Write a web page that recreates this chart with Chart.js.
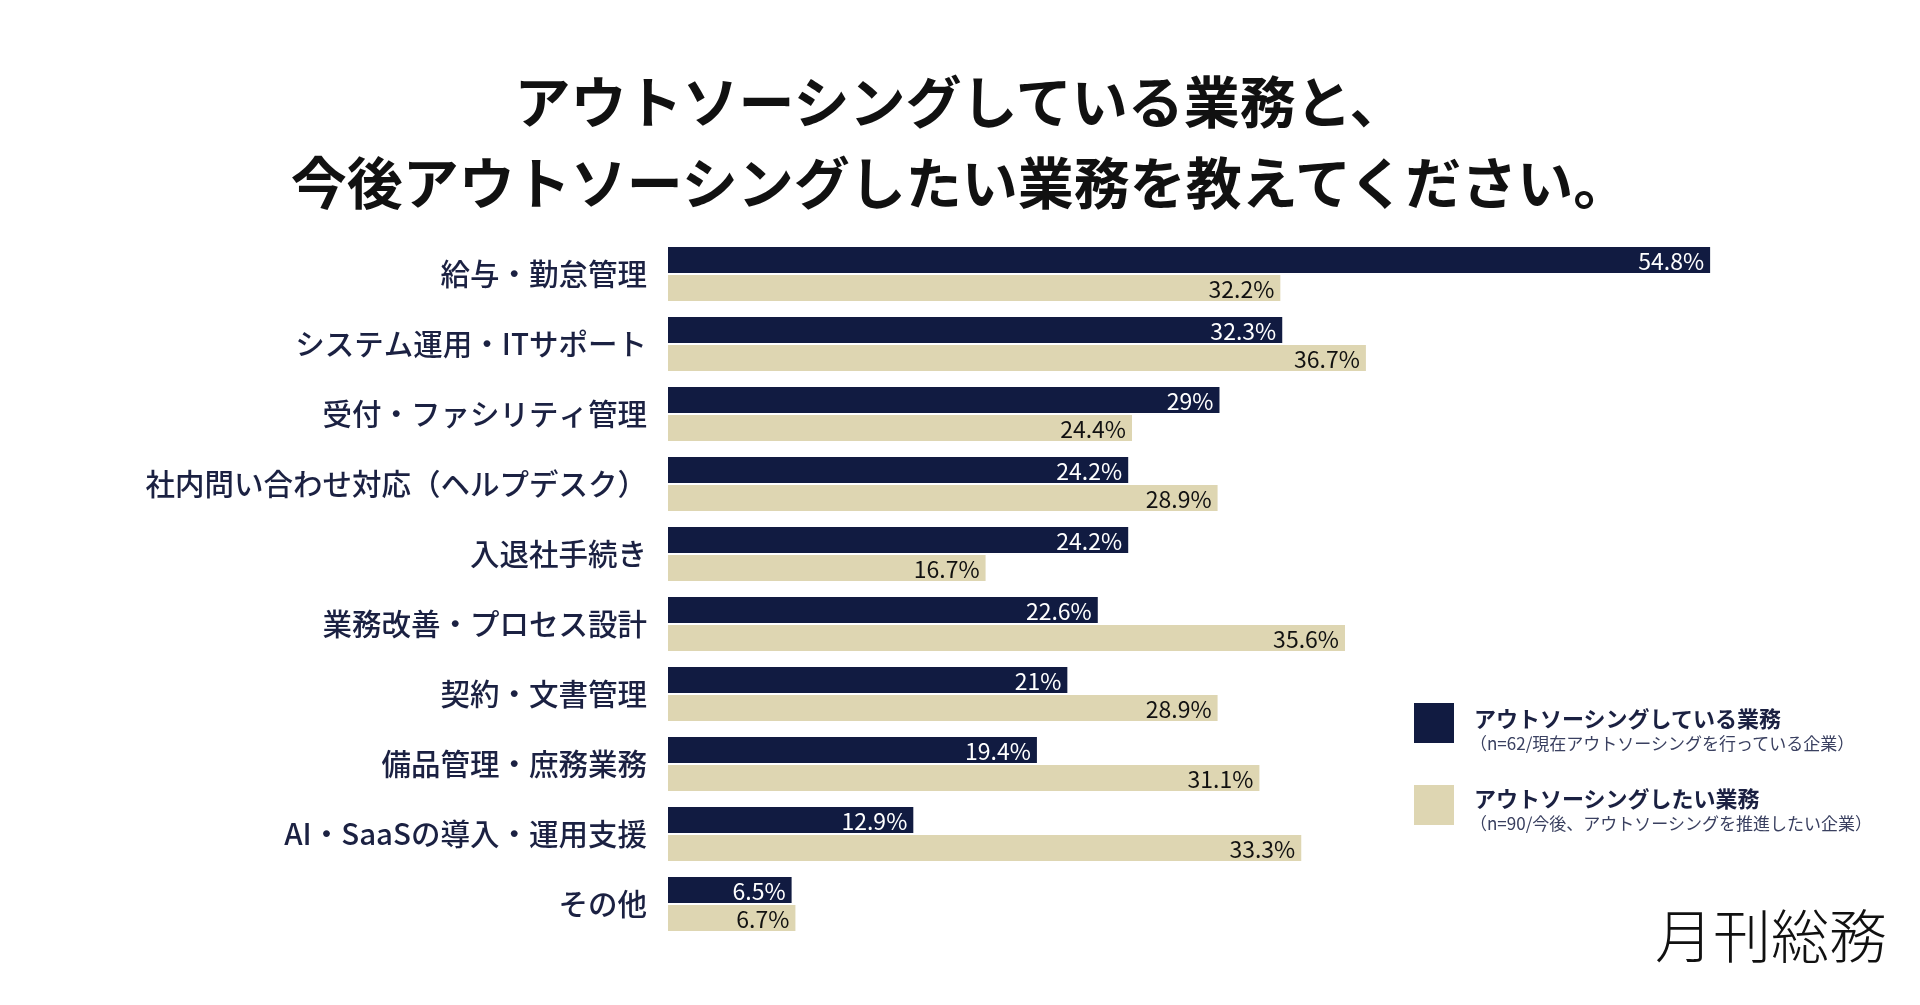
<!DOCTYPE html>
<html lang="ja">
<head>
<meta charset="utf-8">
<title>アウトソーシングしている業務と、今後アウトソーシングしたい業務</title>
<script src="https://cdn.jsdelivr.net/npm/chart.js@4.4.1/dist/chart.umd.min.js"></script>
<style>
    html, body { margin: 0; padding: 0; background: #fff; }
    body { width: 1920px; height: 1005px; position: relative; overflow: hidden;
           font-family: "Noto Sans CJK JP", "Noto Sans", sans-serif; }
    #chartWrap { position: absolute; left: 0; top: 0; width: 1920px; height: 1005px; }
    .title { position: absolute; left: 0; top: 58px; width: 1920px; text-align: center;
             font-size: 56px; line-height: 81px; font-weight: 700; color: #111; }
    .legend-box { position: absolute; width: 40px; height: 40px; }
    .legend-name { position: absolute; left: 1474px; font-size: 22px; line-height: 26px;
                   font-weight: 700; color: #1b2142; white-space: nowrap; }
    .legend-note { position: absolute; left: 1470px; font-size: 17px; line-height: 20px;
                   color: #3a4060; white-space: nowrap; }
    .logo { position: absolute; left: 1655px; top: 899px; font-size: 58px; line-height: 68px;
            font-weight: 300; color: #111; white-space: nowrap; }
</style>
</head>
<body>
<div id="chartWrap"><canvas id="outsourceChart"></canvas></div>

<div class="title">アウトソーシングしている業務と、<br>今後アウトソーシングしたい業務を教えてください。</div>

<div class="legend-box" style="left:1414px; top:703px; background:#111b41;"></div>
<div class="legend-name" style="top:704px;">アウトソーシングしている業務</div>
<div class="legend-note" style="top:733px;">（n=62/現在アウトソーシングを行っている企業）</div>

<div class="legend-box" style="left:1414px; top:785px; background:#ded6b2;"></div>
<div class="legend-name" style="top:784px;">アウトソーシングしたい業務</div>
<div class="legend-note" style="top:813px;">（n=90/今後、アウトソーシングを推進したい企業）</div>

<div class="logo">月刊総務</div>

<script>
const categories = [
    '給与・勤怠管理',
    'システム運用・ITサポート',
    '受付・ファシリティ管理',
    '社内問い合わせ対応（ヘルプデスク）',
    '入退社手続き',
    '業務改善・プロセス設計',
    '契約・文書管理',
    '備品管理・庶務業務',
    'AI・SaaSの導入・運用支援',
    'その他'
];
const currentValues = [54.8, 32.3, 29, 24.2, 24.2, 22.6, 21, 19.4, 12.9, 6.5];
const futureValues = [32.2, 36.7, 24.4, 28.9, 16.7, 35.6, 28.9, 31.1, 33.3, 6.7];
const seriesNames = ['アウトソーシングしている業務', 'アウトソーシングしたい業務'];

const NAVY = '#111b41';
const BEIGE = '#ded6b2';
const FONT = '"Noto Sans CJK JP", "Noto Sans", sans-serif';

// value labels drawn inside the end of each bar
const barValueLabels = {
    id: 'barValueLabels',
    afterDatasetsDraw(chart) {
        const ctx = chart.ctx;
        chart.data.datasets.forEach((ds, i) => {
            const meta = chart.getDatasetMeta(i);
            meta.data.forEach((bar, j) => {
                ctx.save();
                ctx.font = `400 23px ${FONT}`;
                ctx.fillStyle = i === 0 ? '#ffffff' : '#111111';
                ctx.textAlign = 'right';
                ctx.textBaseline = 'middle';
                ctx.fillText(ds.data[j] + '%', bar.x - 6, bar.y + 1);
                ctx.restore();
            });
        });
    }
};

document.addEventListener('DOMContentLoaded', () => {
    const ctx = document.getElementById('outsourceChart').getContext('2d');
    new Chart(ctx, {
        type: 'bar',
        data: {
            labels: categories,
            datasets: [{
                label: seriesNames[0],
                data: currentValues,
                backgroundColor: NAVY,
                borderWidth: 0,
                categoryPercentage: 0.8,
                barPercentage: 0.93
            }, {
                label: seriesNames[1],
                data: futureValues,
                backgroundColor: BEIGE,
                borderWidth: 0,
                categoryPercentage: 0.8,
                barPercentage: 0.93
            }]
        },
        options: {
            indexAxis: 'y',
            responsive: true,
            maintainAspectRatio: false,
            animation: false,
            layout: {
                padding: { top: 239, bottom: 66, left: 0, right: 111 }
            },
            plugins: {
                legend: { display: false },
                tooltip: { enabled: false }
            },
            scales: {
                x: {
                    display: false,
                    min: 0,
                    max: 60
                },
                y: {
                    grid: { display: false, drawTicks: false },
                    border: { display: false },
                    ticks: {
                        color: '#1b2142',
                        padding: 21,
                        font: { family: FONT, size: 29.5, weight: 500 }
                    },
                    afterFit: scale => { scale.width = 668; }
                }
            }
        },
        plugins: [barValueLabels]
    });
});
</script>
</body>
</html>
